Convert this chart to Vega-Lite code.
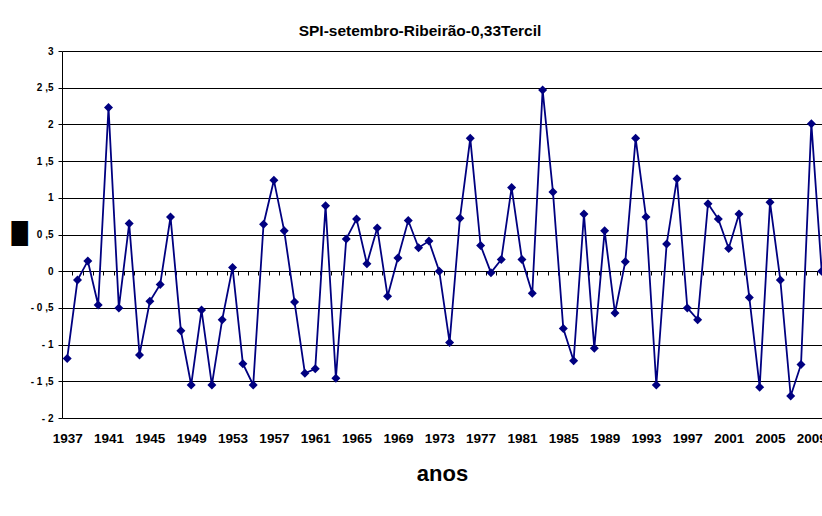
{
  "$schema": "https://vega.github.io/schema/vega-lite/v6.json",
  "width": 760,
  "height": 367,
  "autosize": {"type": "none"},
  "padding": {"left": 62, "top": 51, "right": 0, "bottom": 98},
  "background": "white",
  "config": {
    "view": {"stroke": null},
    "font": "Liberation Sans"
  },
  "title": {
    "text": "SPI-setembro-Ribeirão-0,33Tercil",
    "font": "Liberation Sans",
    "fontSize": 15.5,
    "fontWeight": "bold",
    "color": "black",
    "anchor": "middle",
    "dx": -22,
    "dy": 18,
    "baseline": "alphabetic",
    "offset": 13
  },
  "data": {
    "values": [
      {"ano": 1937, "spi": -1.19}, {"ano": 1938, "spi": -0.12}, {"ano": 1939, "spi": 0.14}, {"ano": 1940, "spi": -0.46},
      {"ano": 1941, "spi": 2.23}, {"ano": 1942, "spi": -0.5}, {"ano": 1943, "spi": 0.65}, {"ano": 1944, "spi": -1.14},
      {"ano": 1945, "spi": -0.41}, {"ano": 1946, "spi": -0.18}, {"ano": 1947, "spi": 0.74}, {"ano": 1948, "spi": -0.81},
      {"ano": 1949, "spi": -1.55}, {"ano": 1950, "spi": -0.53}, {"ano": 1951, "spi": -1.55}, {"ano": 1952, "spi": -0.66},
      {"ano": 1953, "spi": 0.05}, {"ano": 1954, "spi": -1.26}, {"ano": 1955, "spi": -1.55}, {"ano": 1956, "spi": 0.64},
      {"ano": 1957, "spi": 1.24}, {"ano": 1958, "spi": 0.55}, {"ano": 1959, "spi": -0.42}, {"ano": 1960, "spi": -1.39},
      {"ano": 1961, "spi": -1.33}, {"ano": 1962, "spi": 0.89}, {"ano": 1963, "spi": -1.46}, {"ano": 1964, "spi": 0.44},
      {"ano": 1965, "spi": 0.71}, {"ano": 1966, "spi": 0.1}, {"ano": 1967, "spi": 0.59}, {"ano": 1968, "spi": -0.34},
      {"ano": 1969, "spi": 0.18}, {"ano": 1970, "spi": 0.69}, {"ano": 1971, "spi": 0.32}, {"ano": 1972, "spi": 0.41},
      {"ano": 1973, "spi": 0.0}, {"ano": 1974, "spi": -0.97}, {"ano": 1975, "spi": 0.72}, {"ano": 1976, "spi": 1.81},
      {"ano": 1977, "spi": 0.35}, {"ano": 1978, "spi": -0.02}, {"ano": 1979, "spi": 0.16}, {"ano": 1980, "spi": 1.14},
      {"ano": 1981, "spi": 0.16}, {"ano": 1982, "spi": -0.3}, {"ano": 1983, "spi": 2.47}, {"ano": 1984, "spi": 1.08},
      {"ano": 1985, "spi": -0.78}, {"ano": 1986, "spi": -1.22}, {"ano": 1987, "spi": 0.78}, {"ano": 1988, "spi": -1.05},
      {"ano": 1989, "spi": 0.55}, {"ano": 1990, "spi": -0.57}, {"ano": 1991, "spi": 0.13}, {"ano": 1992, "spi": 1.81},
      {"ano": 1993, "spi": 0.74}, {"ano": 1994, "spi": -1.55}, {"ano": 1995, "spi": 0.37}, {"ano": 1996, "spi": 1.26},
      {"ano": 1997, "spi": -0.5}, {"ano": 1998, "spi": -0.66}, {"ano": 1999, "spi": 0.92}, {"ano": 2000, "spi": 0.71},
      {"ano": 2001, "spi": 0.31}, {"ano": 2002, "spi": 0.78}, {"ano": 2003, "spi": -0.36}, {"ano": 2004, "spi": -1.58},
      {"ano": 2005, "spi": 0.94}, {"ano": 2006, "spi": -0.12}, {"ano": 2007, "spi": -1.7}, {"ano": 2008, "spi": -1.27},
      {"ano": 2009, "spi": 2.01}, {"ano": 2010, "spi": 0.0}
    ]
  },
  "encoding": {
    "y": {
      "field": "spi",
      "type": "quantitative",
      "scale": {"domain": [-2, 3], "nice": false, "zero": false},
      "axis": {
        "values": [-2, -1.5, -1, -0.5, 0, 0.5, 1, 1.5, 2, 2.5, 3],
        "labelExpr": "datum.value < 0 ? '- ' + replace(format(-datum.value, '~g'), '.', ' ,') : replace(format(datum.value, '~g'), '.', ' ,')",
        "labelFont": "Liberation Sans",
        "labelFontSize": 10,
        "labelFontWeight": "bold",
        "labelColor": "black",
        "labelPadding": 5,
        "tickSize": 4,
        "tickColor": "black",
        "domainColor": "black",
        "grid": true,
        "gridColor": "black",
        "gridOpacity": 1,
        "gridWidth": 1,
        "title": "█",
        "titleFont": "DejaVu Sans",
        "titleFontSize": 21,
        "titleFontWeight": "normal",
        "titleColor": "black",
        "titleAngle": 0,
        "titleAlign": "center",
        "titleBaseline": "middle",
        "titleX": -43,
        "titleY": 183
      }
    }
  },
  "layer": [
    {
      "mark": {"type": "line", "color": "#000080", "strokeWidth": 1.8, "clip": true},
      "encoding": {
        "x": {
          "field": "ano",
          "type": "quantitative",
          "scale": {"domain": [1936.5, 2010.03], "nice": false, "zero": false},
          "axis": {
            "orient": "bottom",
            "values": [1937, 1941, 1945, 1949, 1953, 1957, 1961, 1965, 1969, 1973, 1977, 1981, 1985, 1989, 1993, 1997, 2001, 2005, 2009],
            "format": "d",
            "ticks": false,
            "domain": false,
            "grid": false,
            "labelFont": "Liberation Sans",
            "labelFontSize": 13.5,
            "labelFontWeight": "bold",
            "labelColor": "black",
            "labelPadding": 13.5,
            "labelOverlap": false,
            "labelFlush": false,
            "title": "anos",
            "titleFont": "Liberation Sans",
            "titleFontSize": 22,
            "titleFontWeight": "bold",
            "titleColor": "black",
            "titlePadding": 18
          }
        }
      }
    },
    {
      "mark": {"type": "point", "shape": "diamond", "filled": true, "size": 81, "color": "#000080", "opacity": 1, "clip": true},
      "encoding": {
        "x": {
          "field": "ano",
          "type": "quantitative",
          "axis": {
            "orient": "bottom",
            "offset": -147,
            "values": [1936.5, 1937.5, 1938.5, 1939.5, 1940.5, 1941.5, 1942.5, 1943.5, 1944.5, 1945.5, 1946.5, 1947.5, 1948.5, 1949.5, 1950.5, 1951.5, 1952.5, 1953.5, 1954.5, 1955.5, 1956.5, 1957.5, 1958.5, 1959.5, 1960.5, 1961.5, 1962.5, 1963.5, 1964.5, 1965.5, 1966.5, 1967.5, 1968.5, 1969.5, 1970.5, 1971.5, 1972.5, 1973.5, 1974.5, 1975.5, 1976.5, 1977.5, 1978.5, 1979.5, 1980.5, 1981.5, 1982.5, 1983.5, 1984.5, 1985.5, 1986.5, 1987.5, 1988.5, 1989.5, 1990.5, 1991.5, 1992.5, 1993.5, 1994.5, 1995.5, 1996.5, 1997.5, 1998.5, 1999.5, 2000.5, 2001.5, 2002.5, 2003.5, 2004.5, 2005.5, 2006.5, 2007.5, 2008.5, 2009.5],
            "labels": false,
            "ticks": true,
            "tickSize": 4,
            "tickColor": "black",
            "domain": true,
            "domainColor": "black",
            "grid": false,
            "title": null
          }
        }
      }
    }
  ],
  "resolve": {"axis": {"x": "independent"}}
}
